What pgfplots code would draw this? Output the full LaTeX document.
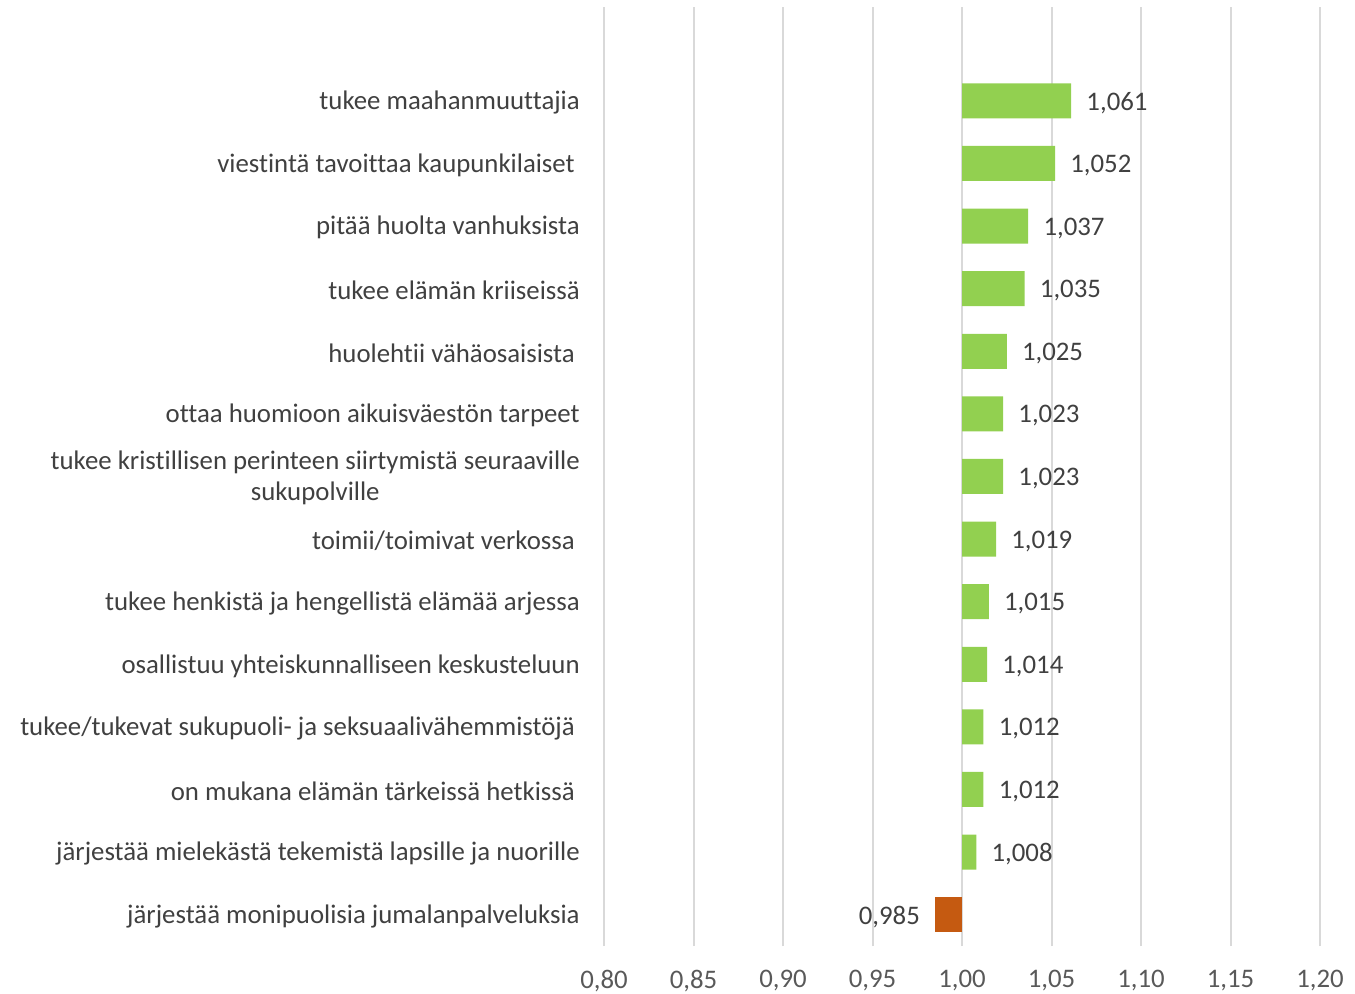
\documentclass[border=0pt]{standalone}
\usepackage{fontspec}
\setmainfont{Carlito}[Ligatures={NoCommon}]
\usepackage{pgfplots}
\usepackage{pgfplotstable}
\pgfplotsset{compat=1.18}
\definecolor{barGreen}{HTML}{92D050}
\definecolor{barOrange}{HTML}{C55A11}
\definecolor{txt}{HTML}{404040}
\definecolor{ticktxt}{HTML}{595959}
\definecolor{gridc}{HTML}{D9D9D9}

\pgfplotstableread{
idx v
13 1.061
12 1.052
11 1.037
10 1.035
9 1.025
8 1.023
7 1.023
6 1.019
5 1.015
4 1.014
3 1.012
2 1.012
1 1.008
}\greendata
\pgfplotstableread{
idx v
0 0.985
}\orangedata

\begin{document}
\begin{tikzpicture}
\begin{axis}[
  scale only axis,
  width=358pt, height=469.5pt,
  xbar,
  bar width=17.5pt,
  xmin=-0.2, xmax=0.2,
  ymin=-0.5, ymax=14.5,
  xtick={-0.2,-0.15,-0.1,-0.05,0,0.05,0.1,0.15,0.2},
  xticklabels={{0,80},{0,85},{0,90},{0,95},{1,00},{1,05},{1,10},{1,15},{1,20}},
  ytick={0,1,2,3,4,5,6,7,8,9,10,11,12,13},
  yticklabels={
    {järjestää monipuolisia jumalanpalveluksia},
    {järjestää mielekästä tekemistä lapsille ja nuorille},
    {on mukana elämän tärkeissä hetkissä\kern2.5pt},
    {tukee/tukevat sukupuoli- ja seksuaalivähemmistöjä\kern2.5pt},
    {osallistuu yhteiskunnalliseen keskusteluun},
    {tukee henkistä ja hengellistä elämää arjessa},
    {toimii/toimivat verkossa\kern2.5pt},
    {tukee kristillisen perinteen siirtymistä seuraaville\\sukupolville},
    {ottaa huomioon aikuisväestön tarpeet},
    {huolehtii vähäosaisista\kern2.5pt},
    {tukee elämän kriiseissä},
    {pitää huolta vanhuksista},
    {viestintä tavoittaa kaupunkilaiset\kern2.5pt},
    {tukee maahanmuuttajia}
  },
  /pgf/number format/assume math mode=true,
  xmajorgrids,
  major grid style={draw=gridc, line width=1pt},
  axis line style={draw=none},
  major tick length=0pt,
  tick style={draw=none},
  xticklabel style={font=\fontsize{13.4}{16}\selectfont, text=ticktxt, yshift=-8.5pt},
  yticklabel style={font=\fontsize{13.4}{15.5}\selectfont, text=txt, align=center, xshift=-8.6pt, yshift=-0.8pt},
  point meta=explicit,
  nodes near coords={\pgfmathprintnumber[fixed,fixed zerofill,precision=3,use comma,assume math mode=true]{\pgfplotspointmeta}},
  every node near coord/.append style={font=\fontsize{13.4}{16}\selectfont, text=txt, yshift=-1pt},
]
\addplot[fill=barGreen, draw=none, bar shift=0pt,
  every node near coord/.append style={anchor=west, xshift=4.1pt}]
  table[x expr=\thisrow{v}-1, y=idx, meta=v] {\greendata};
\addplot[fill=barOrange, draw=none, bar shift=0pt,
  every node near coord/.append style={anchor=east, xshift=-4.1pt}]
  table[x expr=\thisrow{v}-1, y=idx, meta=v] {\orangedata};
\end{axis}
\pgfresetboundingbox
\path ([shift={(-302pt,-23.5pt)}]current axis.south west) rectangle ([shift={(17.5pt,3.5pt)}]current axis.north east);
\end{tikzpicture}
\end{document}
